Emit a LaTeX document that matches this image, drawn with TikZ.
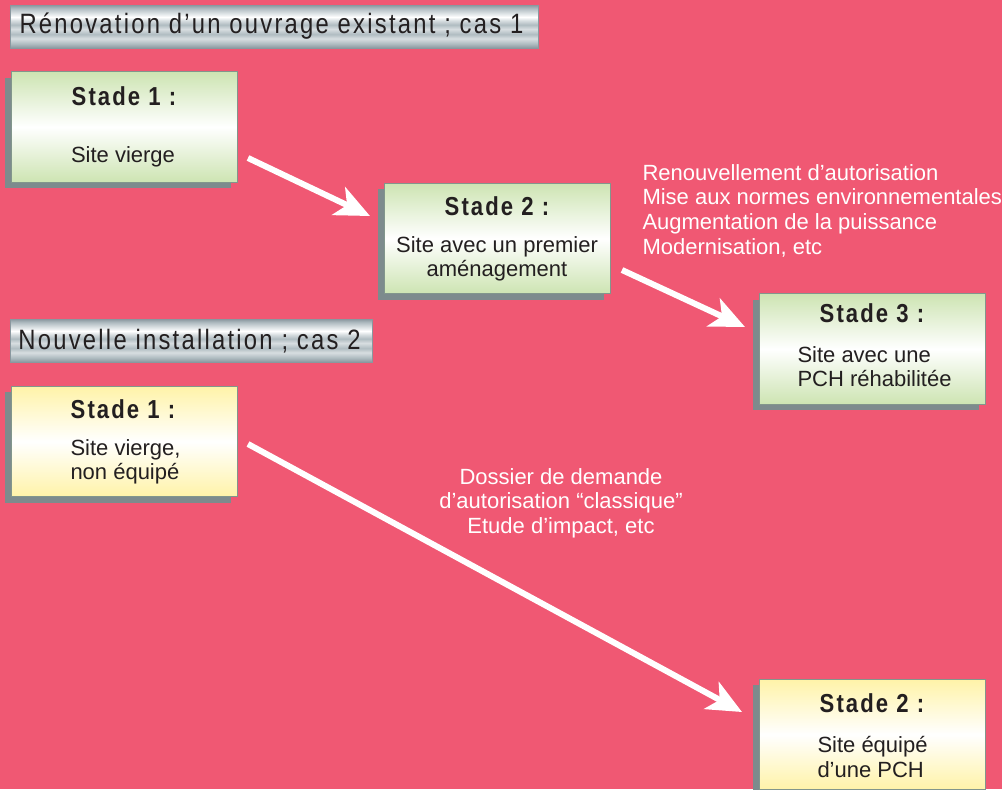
\documentclass[tikz,border=0pt]{standalone}
\usepackage{fontspec}
\setmainfont{Liberation Sans}
\newfontfamily\barfont{Liberation Sans}[FakeStretch=0.85,LetterSpace=8]
\newfontfamily\stadefont{Liberation Sans}[FakeStretch=0.85,LetterSpace=8]
\usetikzlibrary{arrows.meta,shadows}

\definecolor{bgpink}{RGB}{240,88,115}
\definecolor{boxgreen}{RGB}{205,228,178}
\definecolor{boxyellow}{RGB}{255,243,168}
\definecolor{boxline}{RGB}{130,150,140}
\definecolor{shadowgray}{RGB}{125,139,141}
\definecolor{barD}{RGB}{138,152,159}
\definecolor{barM}{RGB}{176,188,193}
\definecolor{barL}{RGB}{216,222,225}
\definecolor{inktext}{RGB}{35,31,32}

\pgfdeclareverticalshading{metalbar}{100bp}{color(0bp)=(barD); color(25bp)=(barD); color(30bp)=(barM); color(36bp)=(barL); color(41bp)=(barM); color(47bp)=(barL); color(52bp)=(barM); color(57bp)=(barL); color(61bp)=(white); color(66bp)=(barL); color(71bp)=(barM); color(75bp)=(barD); color(100bp)=(barD)}

\tikzset{every picture/.style={line width=0.75pt}}
\tikzset{
  etape/.style={draw=boxline, line width=0.75pt, minimum width=169.5pt, minimum height=83pt, inner sep=0pt,
    general shadow={shadow xshift=-4.5pt, shadow yshift=-4.5pt, fill=shadowgray}},
  etapevert/.style={etape, top color=boxgreen, bottom color=boxgreen, middle color=white},
  etapejaune/.style={etape, top color=boxyellow, bottom color=boxyellow, middle color=white},
  titre/.style={font=\stadefont\bfseries\fontsize{19.5}{22}\selectfont, text=inktext, inner sep=0pt},
  corps/.style={font=\fontsize{16.5}{18.4}\selectfont, text=inktext, inner sep=0pt},
  bande/.style={draw=barD, line width=0.5pt, shade, shading=metalbar, minimum height=32.25pt, inner sep=0pt},
  bandetexte/.style={font=\barfont\fontsize{21}{24}\selectfont, text=inktext, inner sep=0pt},
  note/.style={font=\fontsize{16.5}{18.4}\selectfont, text=white, inner sep=0pt},
  fleche/.style={draw=white, line width=4.5pt, -{Stealth[length=26pt,width=23pt,inset=7pt]}},
}

\begin{document}
\begin{tikzpicture}[x=0.75pt,y=0.75pt,yscale=-1,xscale=1]
	\useasboundingbox (0,0) rectangle (1002,789);
	\fill[bgpink] (0,0) rectangle (1002,789);

	%Shape: Rectangle [bar1]
	\node[bande, minimum width=396pt] (bar1) at (274,26.5) {};
	\node[bandetexte, anchor=base west] (bar1t) at (19,33) {Rénovation d’un ouvrage existant ; cas 1};
	%Shape: Rectangle [bar2]
	\node[bande, minimum width=271.5pt] (bar2) at (191,340.5) {};
	\node[bandetexte, anchor=base west] (bar2t) at (18,349) {Nouvelle installation ; cas 2};

	%Shape: Rectangle [cas 1, stade 1]
	\node[etapevert] (c1s1) at (124,127) {};
	\node[titre, anchor=base] (c1s1t) at (124,105) {Stade 1 :};
	\node[corps, anchor=base] (c1s1c) at (123,162) {Site vierge};
	%Shape: Rectangle [cas 1, stade 2]
	\node[etapevert] (c1s2) at (497,238.5) {};
	\node[titre, anchor=base] (c1s2t) at (497,215) {Stade 2 :};
	\node[corps, anchor=north, align=center] (c1s2c) at (497,236) {Site avec un premier\\aménagement};
	%Shape: Rectangle [cas 1, stade 3]
	\node[etapevert] (c1s3) at (872,349) {};
	\node[titre, anchor=base] (c1s3t) at (872,322) {Stade 3 :};
	\node[corps, anchor=north west, align=left] (c1s3c) at (797,346) {Site avec une\\PCH réhabilitée};

	%Shape: Rectangle [cas 2, stade 1]
	\node[etapejaune] (c2s1) at (124,441.5) {};
	\node[titre, anchor=base] (c2s1t) at (123,418) {Stade 1 :};
	\node[corps, anchor=north west, align=left] (c2s1c) at (70,439) {Site vierge,\\non équipé};
	%Shape: Rectangle [cas 2, stade 2]
	\node[etapejaune] (c2s2) at (872,734.5) {};
	\node[titre, anchor=base] (c2s2t) at (872,712) {Stade 2 :};
	\node[corps, anchor=north west, align=left] (c2s2c) at (817,736) {Site équipé\\d’une PCH};

	% Text Node
	\node[note, anchor=north west, align=left] (travaux) at (642,164) {Renouvellement d’autorisation\\Mise aux normes environnementales\\Augmentation de la puissance\\Modernisation, etc};
	% Text Node
	\node[note, anchor=north, align=center] (dossier) at (561,468) {Dossier de demande\\d’autorisation “classique”\\Etude d’impact, etc};

	%Straight Lines
	\coordinate (f1a) at (248,158);
	\coordinate (f1b) at (370,216);
	\coordinate (f2a) at (622,270);
	\coordinate (f2b) at (745,327);
	\coordinate (f3a) at (248,444);
	\coordinate (f3b) at (742,712);
	\draw[fleche] (f1a) -- (f1b);
	\draw[fleche] (f2a) -- (f2b);
	\draw[fleche] (f3a) -- (f3b);

\end{tikzpicture}
\end{document}
